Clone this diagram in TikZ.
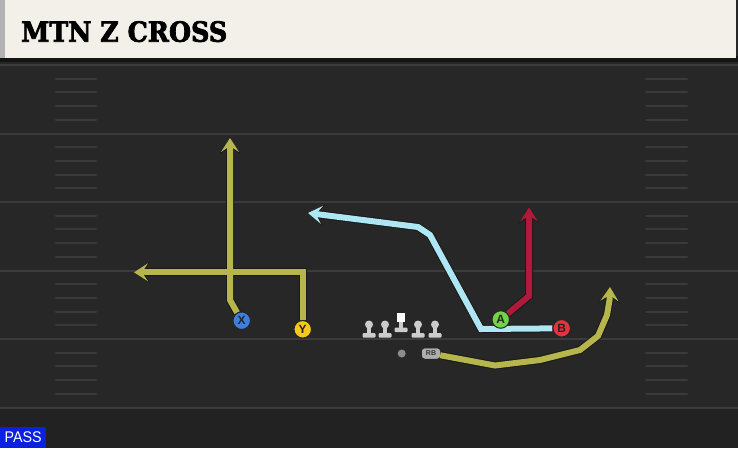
\documentclass[tikz,border=0pt]{standalone}
\usepackage{graphicx}
\usepackage{fontspec}
\setmainfont{Liberation Sans}
\newfontfamily\titlefont[BoldFeatures={FakeBold=2.5}]{DejaVu Serif Condensed}
\usetikzlibrary{arrows.meta}
\definecolor{fieldbg}{HTML}{272727}
\definecolor{yardc}{HTML}{3B3B3B}
\definecolor{hashc}{HTML}{3A3A3A}
\definecolor{headbg}{HTML}{F3F0EA}
\definecolor{olive}{HTML}{B7B64C}
\definecolor{skyb}{HTML}{AEE6F3}
\definecolor{crim}{HTML}{B01A3A}
\definecolor{xblue}{HTML}{3C7FDC}
\definecolor{yyel}{HTML}{F5C81C}
\definecolor{agreen}{HTML}{72D24A}
\definecolor{bred}{HTML}{E5333E}
\definecolor{passblue}{HTML}{0B20E0}
\tikzset{
  outl/.style={draw=black!90, line width=8pt, line join=miter, -{Stealth[length=16pt,width=21pt,inset=7pt]}},
  rline/.style={draw=#1, line width=6pt, line join=miter, -{Stealth[length=14pt,width=18pt,inset=6pt]}},
  player/.style={circle, draw=black!85, line width=1pt, fill=#1, minimum size=17.5pt, inner sep=0pt, font=\bfseries\fontsize{12}{12}\selectfont, text=black!85},
  rbtag/.style={fill=black!32, rounded corners=3pt, minimum width=18pt, minimum height=10pt, inner sep=0pt, font=\bfseries\fontsize{7}{7}\selectfont, text=black!80},
  yard/.style={draw=yardc, line width=2pt},
  hash/.style={draw=hashc, line width=2pt, line cap=round},
  lineman/.pic={
    \fill[black!20, rounded corners=1pt] (-6.5,0) rectangle (6.5,-4.5);
    \fill[black!20] (-2,-4) rectangle (2,-13);
    \fill[black!20] (0,-13) circle (4);
  },
  centerman/.pic={
    \fill[black!20, rounded corners=1pt] (-6.5,0) rectangle (6.5,-4.5);
    \fill[black!20] (-2,-4) rectangle (2,-10);
    \fill[white] (-4.2,-10) rectangle (4.2,-19);
  }
}
\begin{document}
\begin{tikzpicture}[x=1pt,y=-1pt]
\useasboundingbox (0,0) rectangle (738,448);
% field
\fill[fieldbg] (0,0) rectangle (738,448);
\fill[fieldbg!88!black] (0,408) rectangle (738,448);
% yard lines and hashes
\foreach \y in {65,133.5,202,270.5,339,408}{
  \draw[yard] (0,\y) -- (738,\y);
}
\foreach \y in {65,133.5,202,270.5,339}{
  \foreach \k in {1,2,3,4}{
    \draw[hash] (56,\y+13.7*\k) -- (96,\y+13.7*\k);
    \draw[hash] (646,\y+13.7*\k) -- (687,\y+13.7*\k);
  }
}
% header
\fill[black!92] (0,56) rectangle (738,62);
\fill[headbg] (0,0) rectangle (736,58);
\fill[black!30] (0,0) rectangle (5,58);
\node[anchor=south west, inner sep=0pt] (title) at (21,42.3)
  {\resizebox{206pt}{20.6pt}{\titlefont\bfseries MTN Z CROSS}};
% PASS label
\node[fill=passblue, anchor=south west, minimum width=46pt, minimum height=20.5pt, inner sep=0pt, text=white] (pass) at (0,448)
  {\resizebox{37pt}{10.8pt}{PASS}};
% players
\node[player=xblue] (X) at (241.7,320.7) {X};
\node[player=yyel] (Y) at (302.7,329.3) {Y};
\node[player=agreen] (A) at (500.7,319.5) {A};
\node[player=bred] (B) at (561.7,328.3) {B};
\node[fill=black!45, circle, minimum size=8pt, inner sep=0pt] (QB) at (401.7,353.5) {};
\node[rbtag] (RB) at (431,353.5) {RB};
% route ends
\coordinate (xend) at (230,138);
\coordinate (yend) at (134,272.3);
\coordinate (bend) at (308,213);
\coordinate (aend) at (529,207.5);
\coordinate (rbend) at (610,287);
% routes: outlines then colour
\draw[outl] (X) -- (230,300) -- (xend);
\draw[outl] (Y) -- (302.7,272.3) -- (yend);
\draw[outl] (B) -- (481,329) -- (430,235) -- (418,227) -- (bend);
\draw[outl] (A) -- (529,296) -- (aend);
\draw[outl] (RB) -- (495,365.5) -- (540,360) -- (580,350) -- (598,336) -- (607,315) -- (609.5,300) -- (rbend);
\draw[rline=olive] (X) -- (230,300) -- (xend);
\draw[rline=olive] (Y) -- (302.7,272.3) -- (yend);
\draw[rline=skyb] (B) -- (481,329) -- (430,235) -- (418,227) -- (bend);
\draw[rline=crim] (A) -- (529,296) -- (aend);
\draw[rline=olive] (RB) -- (495,365.5) -- (540,360) -- (580,350) -- (598,336) -- (607,315) -- (609.5,300) -- (rbend);
% redraw players on top
\node[player=xblue] at (X) {X};
\node[player=yyel] at (Y) {Y};
\node[player=agreen] at (A) {A};
\node[player=bred] at (B) {B};
\node[rbtag] at (RB) {RB};
% offensive line
\pic at (369,337.5) {lineman};
\pic at (385,337.5) {lineman};
\pic at (401,332) {centerman};
\pic at (418,337.5) {lineman};
\pic at (435,337.5) {lineman};
\end{tikzpicture}
\end{document}
